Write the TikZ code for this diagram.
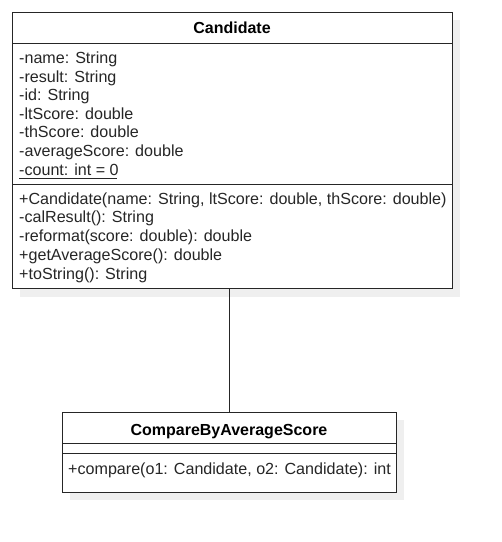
\documentclass[tikz,border=0pt]{standalone}
\usepackage{fontspec}
\setmainfont{Liberation Sans}
\begin{document}
\begin{tikzpicture}[x=1pt,y=-1pt,
  boxline/.style={draw=black!85, line width=1pt},
  shadowbox/.style={fill={rgb,255:red,239;green,239;blue,239}, draw=none},
  classbox/.style={boxline, fill=white},
  txt/.style={anchor=base west, inner sep=0pt, font=\fontsize{16.1}{18}\selectfont, text=black!85},
  ttl/.style={anchor=base, inner sep=0pt, font=\fontsize{16}{18}\selectfont\bfseries, text=black}]
\useasboundingbox (0,0) rectangle (502,542);
% shadows
\fill[shadowbox] (20,20) rectangle (460,297);
\fill[shadowbox] (70,420) rectangle (404,500);
% Candidate class
\node[classbox, minimum width=440pt, minimum height=276pt, anchor=north west, inner sep=0pt] (cand) at (12,12) {};
\draw[boxline] (12,43.5) -- (452,43.5);
\draw[boxline] (12,184) -- (452,184);
\node[ttl] (candt) at (232,33.5) {Candidate};
\node[txt] (a1) at (19,63.5) {-name: String};
\node[txt] (a2) at (19,82.1) {-result: String};
\node[txt] (a3) at (19,100.7) {-id: String};
\node[txt] (a4) at (19,119.3) {-ltScore: double};
\node[txt] (a5) at (19,137.9) {-thScore: double};
\node[txt] (a6) at (19,156.5) {-averageScore: double};
\node[txt] (a7) at (19,175.1) {-count: int = 0};
\draw[black!85, line width=0.8pt] (a7.base west) ++(0,3) -- ++(98,0);
\node[txt] (m1) at (19,204.2) {+Candidate(name: String, ltScore: double, thScore: double)};
\node[txt] (m2) at (19,222.9) {-calResult(): String};
\node[txt] (m3) at (19,241.6) {-reformat(score: double): double};
\node[txt] (m4) at (19,260.3) {+getAverageScore(): double};
\node[txt] (m5) at (19,279) {+toString(): String};
% CompareByAverageScore class
\node[classbox, minimum width=334pt, minimum height=80pt, anchor=north west, inner sep=0pt] (cmp) at (62,412) {};
\draw[boxline] (62,443) -- (396,443);
\draw[boxline] (62,453) -- (396,453);
\node[ttl] (cmpt) at (229,435) {CompareByAverageScore};
\node[txt] (c1) at (68,474.5) {+compare(o1: Candidate, o2: Candidate): int};
% association
\draw[boxline] (cmp.north |- cand.south) -- (cmp.north);
\end{tikzpicture}
\end{document}
